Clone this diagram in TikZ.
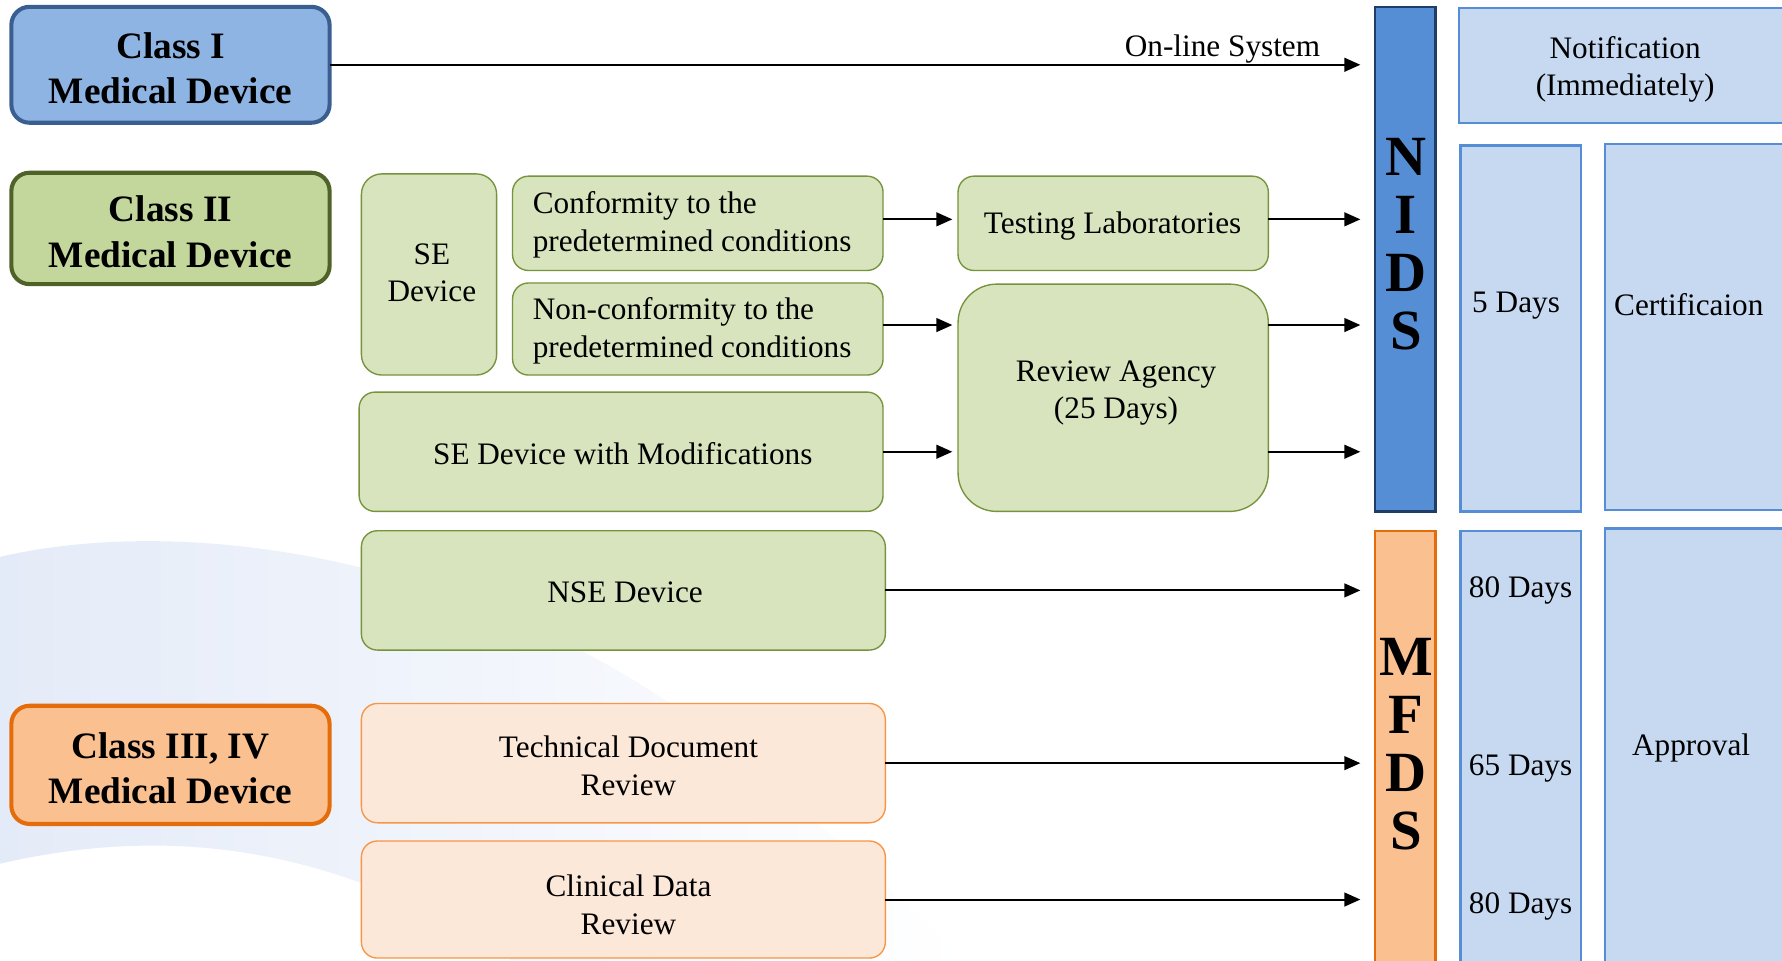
\documentclass[tikz,border=0pt]{standalone}
\usepackage{fontspec}
\setmainfont{Liberation Serif}
\usetikzlibrary{arrows.meta}
\definecolor{cIfill}{HTML}{8EB4E3}
\definecolor{cIdraw}{HTML}{3B5E91}
\definecolor{cIIfill}{HTML}{C3D69B}
\definecolor{cIIdraw}{HTML}{4F6228}
\definecolor{cIIIfill}{HTML}{FAC090}
\definecolor{cIIIdraw}{HTML}{E46C0A}
\definecolor{gfill}{HTML}{D7E4BD}
\definecolor{gdraw}{HTML}{77933C}
\definecolor{ofill}{HTML}{FCE8D9}
\definecolor{odraw}{HTML}{F79646}
\definecolor{nidsfill}{HTML}{558ED5}
\definecolor{nidsdraw}{HTML}{1F3D66}
\definecolor{bfill}{HTML}{C6D9F1}
\definecolor{bdraw}{HTML}{558ED5}
\definecolor{bgblue}{HTML}{E4EBF8}
\begin{document}
\begin{tikzpicture}[x=0.5pt,y=-0.5pt,
  sz/.style 2 args={minimum width=#1*0.5pt, minimum height=#2*0.5pt},
  base/.style={inner sep=0pt, outer sep=0pt, align=center, font=\fontsize{13.75}{16.5}\selectfont},
  cls/.style={base, rounded corners=8pt, line width=1.8pt, font=\bfseries\fontsize{16.4}{20}\selectfont},
  gbox/.style={base, draw=gdraw, fill=gfill, rounded corners=7pt, line width=0.6pt},
  obox/.style={base, draw=odraw, fill=ofill, rounded corners=7pt, line width=0.6pt},
  bbox/.style={base, draw=bdraw, fill=bfill, line width=1pt},
  bar/.style={base, line width=1pt},
  barlbl/.style={inner sep=0pt, align=center, font=\bfseries\fontsize{25}{25.5}\selectfont},
  txt/.style={inner sep=0pt, align=center, font=\fontsize{13.75}{16.5}\selectfont},
  arr/.style={-{Triangle[length=7pt,width=6pt]}, line width=0.9pt},
  toG/.style={arr, shorten >=2.5pt},
  toN/.style={arr, shorten >=6.5pt}]
\clip (0,0) rectangle (1568,845);
\fill[white] (0,0) rectangle (1568,845);
% background swirl
\shade[left color=bgblue, right color=white]
  (0,490) .. controls (150,455) and (400,480) .. (620,640)
  .. controls (720,720) and (800,800) .. (850,845) -- (450,845)
  .. controls (300,745) and (150,725) .. (0,760) -- cycle;

% class boxes
\node[cls, draw=cIdraw, fill=cIfill, sz={280}{102}] (c1) at (150,57) {};
\node[cls, draw=none, fill=none] (c1t) at (150,60) {Class I\\Medical Device};
\node[cls, draw=cIIdraw, fill=cIIfill, sz={280}{98}] (c2) at (150,201) {};
\node[cls, draw=none, fill=none] (c2t) at (150,204) {Class II\\Medical Device};
\node[cls, draw=cIIIdraw, fill=cIIIfill, sz={280}{104}] (c3) at (150,673) {};
\node[cls, draw=none, fill=none] (c3t) at (150,676) {Class III, IV\\Medical Device};

% green boxes
\node[gbox, sz={119}{177}, rounded corners=9pt] (se) at (377.5,241.5) {};
\node[txt] (set) at (380,240) {SE\\Device};
\node[gbox, sz={326}{83}] (conf) at (614,196.5) {};
\node[txt, align=left] (conft) at (609,198) {Conformity to the\\predetermined conditions};
\node[gbox, sz={326}{81}] (nonconf) at (614,289.5) {};
\node[txt, align=left] (nonconft) at (609,291) {Non-conformity to the\\predetermined conditions};
\node[gbox, sz={461}{105}] (semod) at (546.5,397.5) {};
\node[txt] (semodt) at (548,399) {SE Device with Modifications};
\node[gbox, sz={273}{83}] (lab) at (979.5,196.5) {};
\node[txt] (labt) at (979,199) {Testing Laboratories};
\node[gbox, sz={273}{200}, rounded corners=17pt] (ra) at (979.5,350) {};
\node[txt] (ratxt) at (982,346) {Review Agency\\(25 Days)};
\node[gbox, sz={461}{105}] (nse) at (548.5,519.5) {};
\node[txt] (nset) at (550,521) {NSE Device};

% orange boxes
\node[obox, sz={461}{105}] (tech) at (548.5,671.5) {};
\node[txt] (techt) at (553,674) {Technical Document\\Review};
\node[obox, sz={461}{103}] (clin) at (548.5,791.5) {};
\node[txt] (clint) at (553,796) {Clinical Data\\Review};

% bars
\node[bar, draw=nidsdraw, fill=nidsfill, sz={53}{444}] (nids) at (1236.5,228) {};
\node[barlbl] (nidstxt) at (1237,215) {N\\I\\D\\S};
\node[bar, draw=cIIIdraw, fill=cIIIfill, sz={53}{393}] (mfds) at (1236.5,663.5) {};
\node[barlbl] (mfdstxt) at (1237,655) {M\\F\\D\\S};

% right blue boxes
\node[bbox, sz={295}{101}] (notif) at (1431.5,57.5) {};
\node[txt] (notift) at (1430,61) {Notification\\(Immediately)};
\node[bbox, sz={106}{322}] (d5) at (1338,289) {};
\node[txt] (d5txt) at (1334,269) {5 Days};
\node[bbox, sz={168}{322}] (cert) at (1496,288) {};
\node[txt] (certtxt) at (1486,268) {Certificaion};
\node[bbox, sz={106}{393}] (dm) at (1338,663.5) {};
\node[txt] (dm1) at (1338,520) {80 Days};
\node[txt] (dm2) at (1338,676) {65 Days};
\node[txt] (dm3) at (1338,798) {80 Days};
\node[bbox, sz={168}{395}] (appr) at (1496,662.5) {};
\node[txt] (apprtxt) at (1488,658) {Approval};

% arrows
\draw[toN] (c1.east) -- (c1.east -| nids.west);
\node[txt, anchor=base east] (online) at (1162,50) {On-line System};
\draw[toG] ([yshift=1.75pt]conf.east) -- ([yshift=1.75pt]conf.east -| lab.west);
\draw[toN] ([yshift=1.75pt]lab.east) -- ([yshift=1.75pt]lab.east -| nids.west);
\draw[toG] ([yshift=1.75pt]nonconf.east) -- ([yshift=1.75pt]nonconf.east -| ra.west);
\draw[toN] ([yshift=1.75pt]nonconf.east -| ra.east) -- ([yshift=1.75pt]nonconf.east -| nids.west);
\draw[toG] (semod.east) -- (semod.east -| ra.west);
\draw[toN] (semod.east -| ra.east) -- (semod.east -| nids.west);
\draw[toN] (nse.east) -- (nse.east -| mfds.west);
\draw[toN] (tech.east) -- (tech.east -| mfds.west);
\draw[toN] (clin.east) -- (clin.east -| mfds.west);
\end{tikzpicture}
\end{document}
